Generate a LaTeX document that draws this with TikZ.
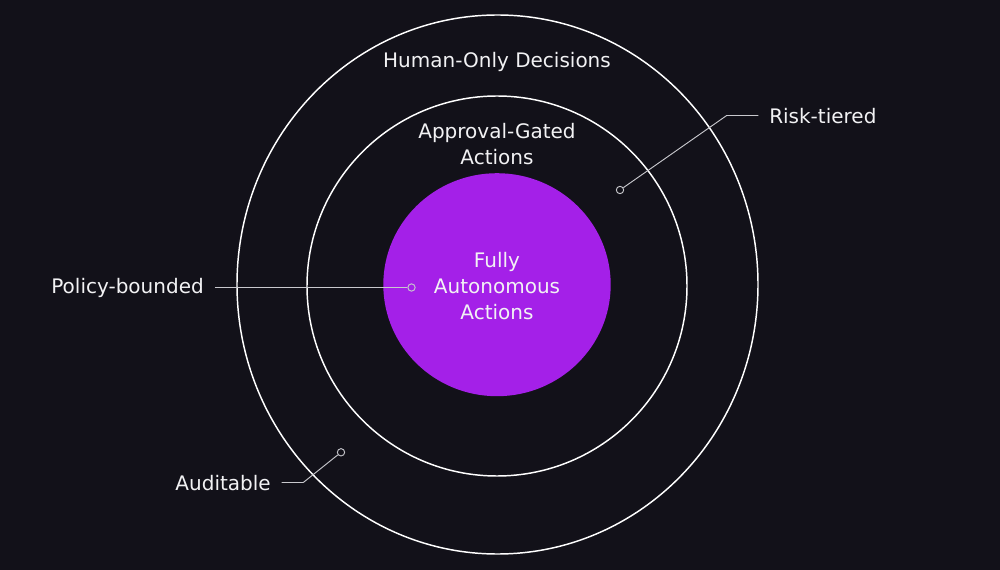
\documentclass[tikz,border=0pt]{standalone}
\usepackage{fontspec}
\setmainfont{DejaVu Sans}
\definecolor{bg}{RGB}{18,17,25}
\definecolor{violetfill}{RGB}{164,32,232}
\definecolor{leadercol}{RGB}{200,200,205}
\definecolor{txt}{RGB}{242,242,244}
\begin{document}
\begin{tikzpicture}[x=0.75pt,y=-0.75pt,
  ring/.style={draw=white, line width=1.1pt},
  lbl/.style={text=txt, font=\fontsize{15}{19.5}\selectfont, inner sep=0pt, align=center},
  leader/.style={draw=leadercol, line width=0.7pt},
  dotm/.style={circle, draw=leadercol, fill=bg, line width=0.7pt, minimum size=5.5pt, inner sep=0pt}]
\fill[bg] (0,0) rectangle (1000,570);
\useasboundingbox (0,0) rectangle (1000,570);
% rings
\draw[ring] (497.5,284.5) ellipse [x radius=260.5, y radius=269.5];
\draw[ring] (497,286) circle [radius=190];
\fill[violetfill] (497,284.7) ellipse [x radius=113.7, y radius=111.5];
% ring labels
\node[lbl] (human) at (497,62) {Human-Only Decisions};
\node[lbl] (approval) at (497,144) {Approval-Gated\\Actions};
\node[lbl] (fully) at (497,286) {Fully\\Autonomous\\Actions};
% side labels
\node[lbl, anchor=west] (risk) at (769,116) {Risk-tiered};
\node[lbl, anchor=east] (policy) at (204,288) {Policy-bounded};
\node[lbl, anchor=east] (audit) at (271,483) {Auditable};
% markers
\node[dotm] (m1) at (620,190) {};
\node[dotm, fill=violetfill] (m2) at (411.5,287.5) {};
\node[dotm] (m3) at (341,452.3) {};
\coordinate (e1) at (726.7,115.5);
\coordinate (e3) at (303.3,482.5);
% leaders
\draw[leader] (m1) -- (e1) -- ([xshift=-8pt]risk.west |- e1);
\draw[leader] ([xshift=8pt]policy.east |- m2) -- (m2);
\draw[leader] ([xshift=8pt]audit.east |- e3) -- (e3) -- (m3);
\end{tikzpicture}
\end{document}
